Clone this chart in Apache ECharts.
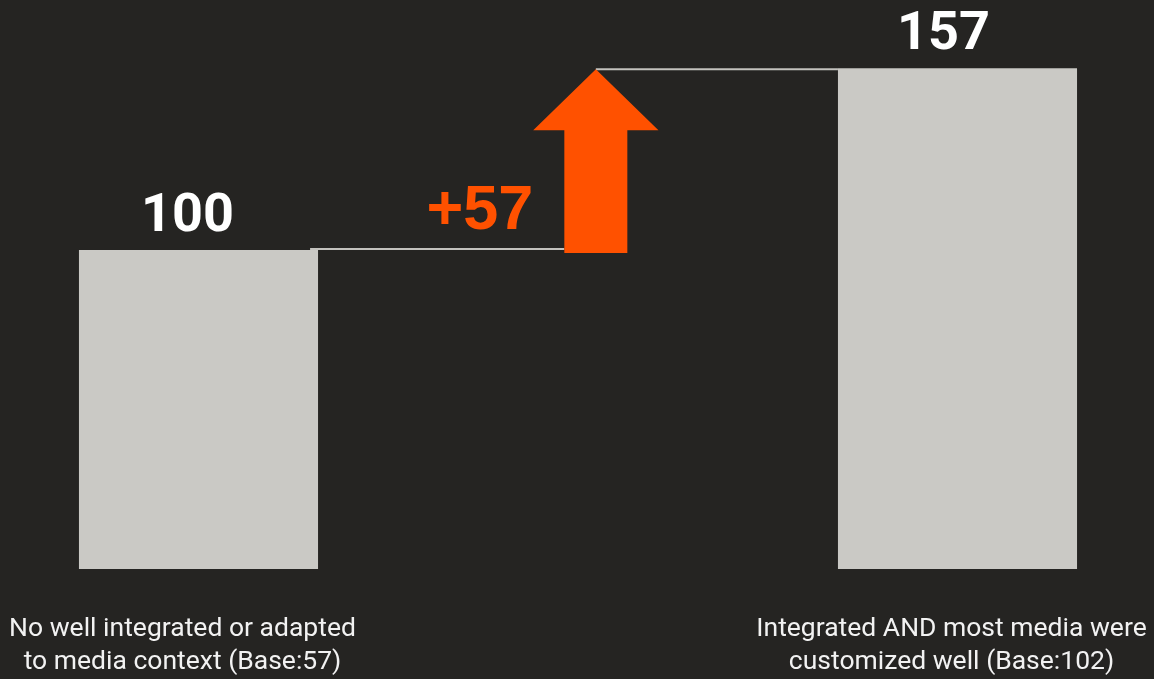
<!DOCTYPE html>
<html>
<head>
<meta charset="utf-8">
<script src="https://cdn.jsdelivr.net/npm/echarts@6/dist/echarts.min.js"></script>
<style>
  html, body { margin: 0; padding: 0; background: #252422; }
  #chart { width: 1154px; height: 679px; }
</style>
</head>
<body>
<div id="chart"></div>
<script>
  // data
  const categories = [
    'No well integrated or adapted\nto media context (Base:57)',
    '',
    'Integrated AND most media were\ncustomized well (Base:102)'
  ]
  const barValues = [100, null, 157]
  const stepFrom = 100
  const stepTo = 157
  const stepLabel = '+57'

  const labelShift = [-11, 0, -14]
  const catShift = [-16, 0, -6]

  const chart = echarts.init(document.getElementById('chart'))

  const option = {
    backgroundColor: '#252422',
    animation: false,
    grid: {
      left: 8.75,
      right: 6.75,
      top: 26.7,
      bottom: 110,
      outerBoundsMode: 'none'
    },
    xAxis: {
      type: 'category',
      data: categories.map((c, i) => ({
        value: c,
        textStyle: {
          padding: catShift[i] < 0 ? [0, -catShift[i] * 2, 0, 0] : 0
        }
      })),
      axisLine: { show: false },
      axisTick: { show: false },
      axisLabel: {
        interval: 0,
        color: '#f2f2f2',
        fontFamily: 'Roboto',
        fontSize: 26.5,
        lineHeight: 33,
        margin: 44
      }
    },
    yAxis: {
      type: 'value',
      min: 0,
      max: 170,
      show: false
    },
    series: [
      {
        type: 'bar',
        barWidth: '63%',
        itemStyle: { color: '#cac9c5' },
        data: barValues.map((v, i) => ({
          value: v,
          label: { offset: [labelShift[i], 0] }
        })),
        label: {
          show: true,
          position: 'top',
          distance: 6,
          color: '#ffffff',
          fontFamily: 'Roboto',
          fontWeight: 'bold',
          fontSize: 54
        }
      },
      {
        // connector lines + orange arrow
        type: 'custom',
        data: [[1, stepFrom, stepTo]],
        z: 3,
        renderItem: function (params, api) {
          const base = api.coord([api.value(0), api.value(1)])
          const top = api.coord([api.value(0), api.value(2)])
          const bw = api.size([1, 0])[0]
          const cx = base[0] + bw * 0.047
          const shaft = bw * 0.083
          const head = bw * 0.165
          const headH = 62
          const lineStyle = { stroke: '#c3c2be', lineWidth: 2 }
          return {
            type: 'group',
            children: [
              {
                type: 'line',
                shape: { x1: base[0] - bw * 0.706, y1: base[1] - 1, x2: cx - shaft, y2: base[1] - 1 },
                style: lineStyle
              },
              {
                type: 'line',
                shape: { x1: cx, y1: top[1] + 1, x2: base[0] + bw * 0.685, y2: top[1] + 1 },
                style: lineStyle
              },
              {
                type: 'polygon',
                shape: {
                  points: [
                    [cx - shaft, base[1] + 3],
                    [cx + shaft, base[1] + 3],
                    [cx + shaft, top[1] + headH],
                    [cx + head, top[1] + headH],
                    [cx, top[1] + 1],
                    [cx - head, top[1] + headH],
                    [cx - shaft, top[1] + headH]
                  ]
                },
                style: { fill: '#ff5100' }
              },
              {
                type: 'text',
                x: cx - shaft - 31,
                y: base[1] - 38,
                style: {
                  text: stepLabel,
                  fill: '#ff5100',
                  font: 'bold 63px "Liberation Sans", Arial, sans-serif',
                  align: 'right',
                  verticalAlign: 'middle'
                }
              }
            ]
          }
        }
      }
    ]
  }

  chart.setOption(option)
</script>
</body>
</html>
